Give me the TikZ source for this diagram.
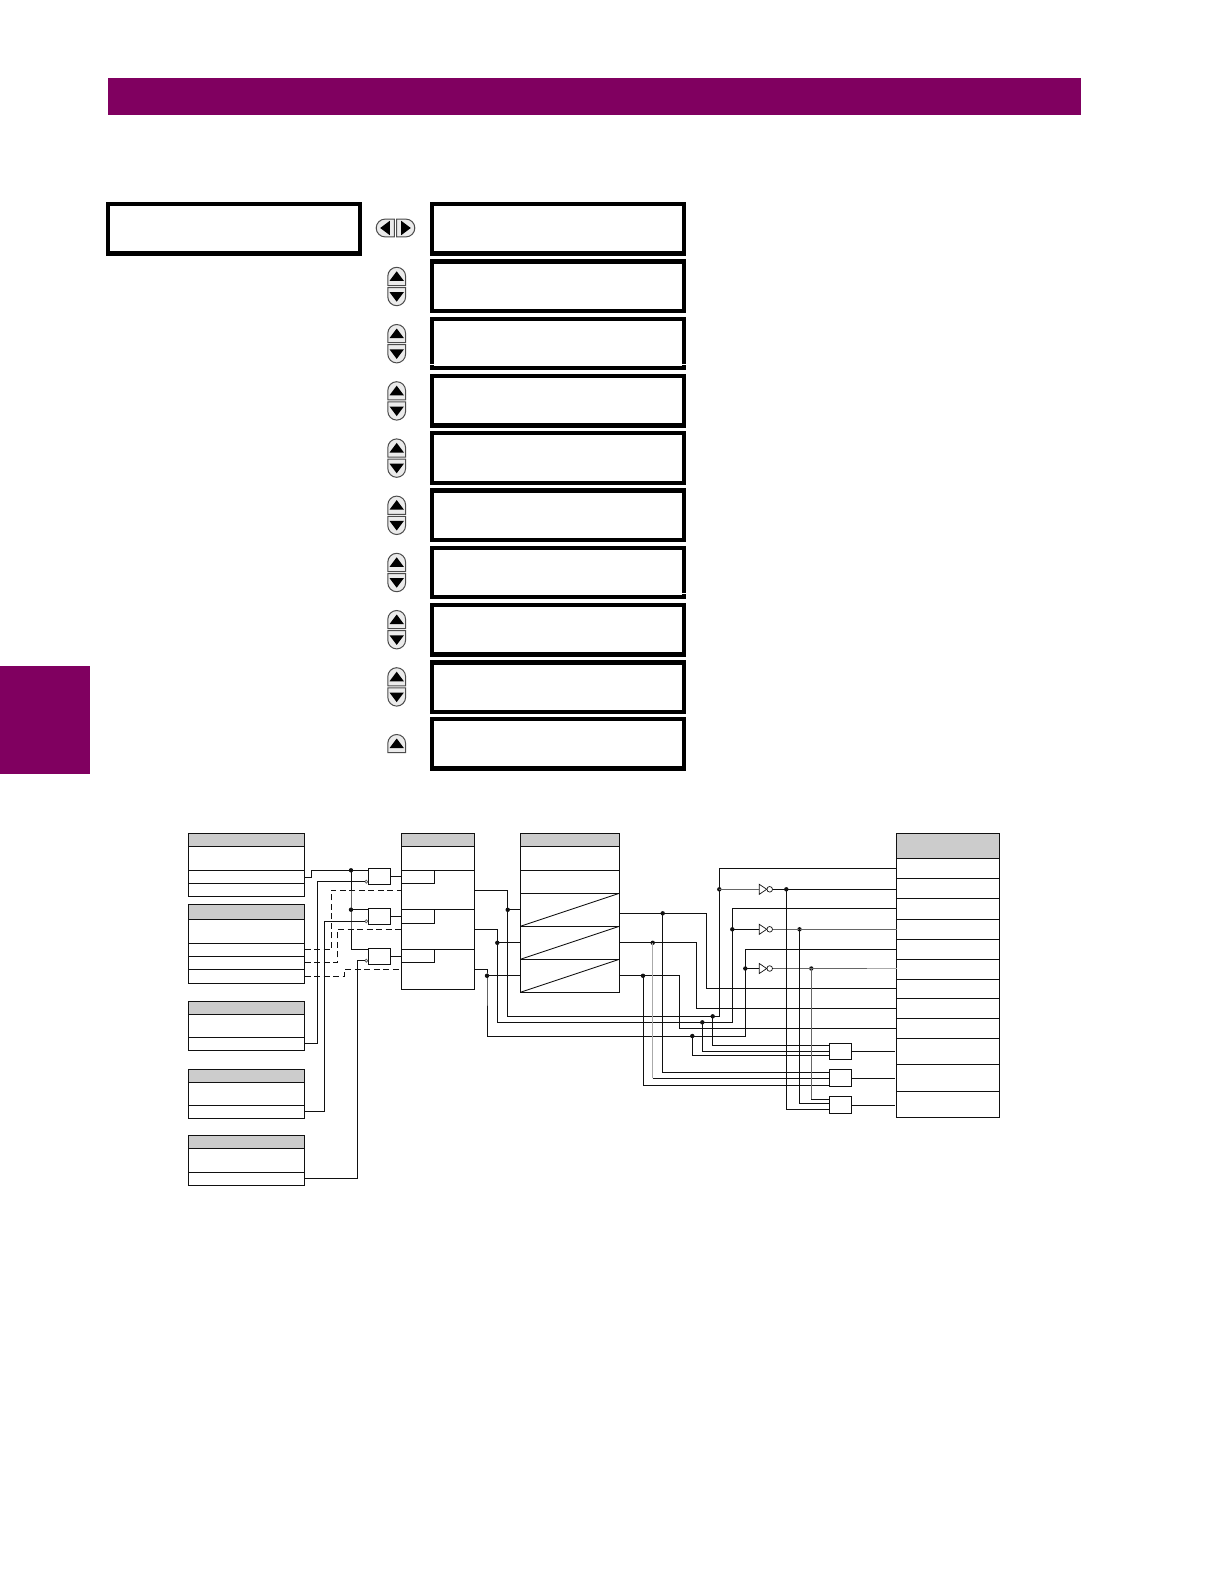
\documentclass[tikz,border=0pt]{standalone}
\usetikzlibrary{calc}
\definecolor{brand}{HTML}{800060}
\definecolor{hdrgray}{HTML}{CCCCCC}
\definecolor{ink}{HTML}{111111}
\definecolor{midgray}{HTML}{666666}
\definecolor{lightgray}{HTML}{AAAAAA}
\newcommand\tcell[6]{\pgfmathsetmacro{\tw}{#4-#2}\pgfmathsetmacro{\th}{#5-#3}%
  \node[#6,minimum width=\tw pt,minimum height=\th pt] (#1) at (#2,#3) {};}
\newcommand\lcdrow[3]{\node[lcd,minimum width=251.7pt,minimum height=49.4pt] (#1) at (#2,#3) {};}
\newcommand\invg[2]{\coordinate (#1in) at (759.3,#2);
  \node[invo] (#1o) at (769.7,#2) {};
  \draw[ink,line width=.7pt,fill=white] (759.3,#2-5) -- (766.7,#2) -- (759.3,#2+5) -- cycle;}
\tikzset{
  cellbase/.style={rectangle,draw=ink,line width=1pt,anchor=north west,inner sep=0pt,outer sep=0pt},
  cellr/.style={cellbase,fill=white},
  hdr/.style={cellbase,fill=hdrgray},
  lcd/.style={rectangle,draw=black,line width=4.3pt,anchor=north west,inner sep=0pt,outer sep=0pt,fill=white},
  wire/.style={draw=ink,line width=1pt},
  graywire/.style={draw=midgray,line width=1pt},
  lightwire/.style={draw=lightgray,line width=1.2pt},
  dashwire/.style={draw=ink,line width=1pt,dash pattern=on 6pt off 3.5pt},
  dotn/.style={circle,fill=ink,inner sep=0pt,minimum size=4.4pt,outer sep=0pt},
  bub/.style={circle,draw=midgray,fill=white,line width=.8pt,inner sep=0pt,minimum size=3pt,outer sep=0pt},
  invo/.style={circle,draw=ink,fill=white,line width=.7pt,inner sep=0pt,minimum size=5.6pt,outer sep=0pt},
  btn/.pic={
    \draw[draw=black!70,fill=black!8,line width=1pt] (-8.9pt,0pt) -- (-8.9pt,9.3pt)
      arc[start angle=180,end angle=0,radius=8.9pt] -- (8.9pt,0pt) -- cycle;
    \fill[black] (0pt,14.2pt) -- (7.2pt,4.6pt) -- (-7.2pt,4.6pt) -- cycle;
  },
}
\begin{document}
\begin{tikzpicture}[x=1pt,y=-1pt]
\useasboundingbox (0,0) rectangle (1224,1584);
\fill[white] (0,0) rectangle (1224,1584);
% page furniture
\fill[brand] (108,78) rectangle (1081,114.7);
\fill[brand] (0,666) rectangle (90,774);
% message boxes
\node[lcd,minimum width=252.2pt,minimum height=49.4pt] (msg) at (108.1,204.1) {};
\foreach \nm/\tp in {r1/204.1,r2/261.4,r3/318.9,r4/376,r5/433.3,r6/490.6,r7/547.9,r8/605.2,r9/662.4,r10/719.1}{
  \lcdrow{\nm}{432.2}{\tp}
}
\draw[white,line width=.8pt] (430,364.7) -- (686.5,364.7);
\draw[white,line width=.8pt] (680,593.7) -- (686.5,593.7);
% buttons
\pic[rotate=90] at (394.4,228) {btn};
\pic[rotate=-90] at (396.6,228) {btn};
\foreach \tp in {267.3,324.5,381.7,438.9,496.1,553.3,610.5,667.7}{
  \pic at (396.7,\tp+18.2) {btn};
  \pic[rotate=180] at (396.7,\tp+20.2) {btn};
}
\pic at (396.7,752.7) {btn};
% tables
\tcell{Ah}{188.3}{833.3}{304.7}{846.7}{hdr}
\tcell{A2}{188.3}{846.7}{304.7}{870.3}{cellr}
\tcell{A3}{188.3}{870.3}{304.7}{883.7}{cellr}
\tcell{A4}{188.3}{883.7}{304.7}{896.3}{cellr}
\tcell{Bh}{188.3}{904.3}{304.7}{919.3}{hdr}
\tcell{B2}{188.3}{919.3}{304.7}{943.3}{cellr}
\tcell{B3}{188.3}{943.3}{304.7}{956.3}{cellr}
\tcell{B4}{188.3}{956.3}{304.7}{969.3}{cellr}
\tcell{B5}{188.3}{969.3}{304.7}{983.3}{cellr}
\tcell{Ch}{188.3}{1001.3}{304.7}{1014.3}{hdr}
\tcell{C2}{188.3}{1014.3}{304.7}{1037.3}{cellr}
\tcell{C3}{188.3}{1037.3}{304.7}{1050.3}{cellr}
\tcell{Dh}{188.3}{1069.3}{304.7}{1082.3}{hdr}
\tcell{D2}{188.3}{1082.3}{304.7}{1105.3}{cellr}
\tcell{D3}{188.3}{1105.3}{304.7}{1118.3}{cellr}
\tcell{Eh}{188.3}{1135.3}{304.7}{1148.3}{hdr}
\tcell{E2}{188.3}{1148.3}{304.7}{1172.3}{cellr}
\tcell{E3}{188.3}{1172.3}{304.7}{1185.3}{cellr}
\tcell{Fh}{401.3}{833.3}{474.3}{846.7}{hdr}
\tcell{F2}{401.3}{846.7}{474.3}{870.3}{cellr}
\tcell{F3}{401.3}{870.3}{474.3}{909.7}{cellr}
\tcell{F4}{401.3}{909.7}{474.3}{949.7}{cellr}
\tcell{F5}{401.3}{949.7}{474.3}{989.3}{cellr}
\tcell{Fa}{401.3}{870.3}{434.7}{883.7}{cellr}
\tcell{Fb}{401.3}{909.7}{434.7}{923.7}{cellr}
\tcell{Fc}{401.3}{949.7}{434.7}{962.7}{cellr}
\tcell{Gh}{520.3}{833.3}{619.3}{846.7}{hdr}
\tcell{G1}{520.3}{846.7}{619.3}{870.3}{cellr}
\tcell{G2}{520.3}{870.3}{619.3}{893.3}{cellr}
\tcell{G3}{520.3}{893.3}{619.3}{926.3}{cellr}
\tcell{G4}{520.3}{926.3}{619.3}{959.3}{cellr}
\tcell{G5}{520.3}{959.3}{619.3}{992.3}{cellr}
\draw[ink,line width=.8pt] (G3.south west) -- (G3.north east);
\draw[ink,line width=.8pt] (G4.south west) -- (G4.north east);
\draw[ink,line width=.8pt] (G5.south west) -- (G5.north east);
\tcell{Hh}{896.7}{833.3}{999.3}{858.3}{hdr}
\tcell{H1}{896.7}{858.3}{999.3}{878.3}{cellr}
\tcell{H2}{896.7}{878.3}{999.3}{898.3}{cellr}
\tcell{H3}{896.7}{898.3}{999.3}{919.3}{cellr}
\tcell{H4}{896.7}{919.3}{999.3}{939.3}{cellr}
\tcell{H5}{896.7}{939.3}{999.3}{959.3}{cellr}
\tcell{H6}{896.7}{959.3}{999.3}{979.3}{cellr}
\tcell{H7}{896.7}{979.3}{999.3}{998.3}{cellr}
\tcell{H8}{896.7}{998.3}{999.3}{1018.3}{cellr}
\tcell{H9}{896.7}{1018.3}{999.3}{1038.3}{cellr}
\tcell{H10}{896.7}{1038.3}{999.3}{1064.7}{cellr}
\tcell{H11}{896.7}{1064.7}{999.3}{1091.3}{cellr}
\tcell{H12}{896.7}{1091.3}{999.3}{1117.3}{cellr}
% gates
\tcell{ga}{368.3}{868.3}{390.7}{884.7}{cellr}
\tcell{gb}{368.3}{908.3}{390.7}{924.7}{cellr}
\tcell{gc}{368.3}{948.3}{390.7}{964.7}{cellr}
\tcell{gd}{829.3}{1043.3}{851.7}{1059.7}{cellr}
\tcell{ge}{829.3}{1069.3}{851.7}{1086.7}{cellr}
\tcell{gf}{829.3}{1096.3}{851.7}{1113.7}{cellr}
% gate pins
\coordinate (gaT) at (368.3,870.3);
\coordinate (gbT) at (368.3,909.7);
\coordinate (gcT) at (368.3,949.7);
\coordinate (gd1) at (829.3,1045.3);
\coordinate (gd2) at (829.3,1051.3);
\coordinate (gd3) at (829.3,1055.3);
\coordinate (ge1) at (829.3,1072.3);
\coordinate (ge2) at (829.3,1078.3);
\coordinate (ge3) at (829.3,1085.3);
\coordinate (gf1) at (829.3,1099.3);
\coordinate (gf2) at (829.3,1103.3);
\coordinate (gf3) at (829.3,1109.3);
\coordinate (vA) at (706.5,988.8);
\coordinate (vB) at (696.5,1008.3);
\coordinate (vC) at (679.5,1028.3);
% dots
\node[dotn] (dA) at (351,870.3) {};
\node[dotn] (dB) at (351,909.7) {};
\node[dotn] (dL1) at (507.7,909.8) {};
\node[dotn] (dL2) at (497.3,942.8) {};
\node[dotn] (dL3) at (487,975.8) {};
\node[dotn] (dM1) at (712.7,1016.3) {};
\node[dotn] (dM2) at (702.3,1022.3) {};
\node[dotn] (dM3) at (692.3,1036) {};
\node[dotn] (dU1) at (719.3,889.3) {};
\node[dotn] (dU2) at (732.3,929.3) {};
\node[dotn] (dU3) at (745.3,968.5) {};
\node[dotn] (dO1) at (786.3,889.3) {};
\node[dotn] (dO2) at (799.5,929.3) {};
\node[dotn] (dO3) at (811.3,968.5) {};
\node[dotn] (dG1) at (662.7,913.3) {};
\node[dotn] (dG2) at (652.7,942.8) {};
\node[dotn] (dG3) at (643,975.8) {};
% inverted gate inputs
\node[bub] (ba) at (366.3,881.7) {};
\node[bub] (bb) at (366.3,921.3) {};
\node[bub] (bc) at (366.3,960.7) {};
% inverters
\invg{ia}{889.3}
\invg{ib}{929.3}
\invg{ic}{968.5}
% left wiring
\draw[wire] (A3.east) -- ++(7,0) |- (dA.center) -- (gaT);
\draw[wire] (dA.center) -- (dB.center) |- (gcT);
\draw[wire] (dB.center) -- (gbT);
\draw[wire] (C3.east) -- ++(12.6,0) |- (ba.west);
\draw[wire] (D3.east) -- ++(19.6,0) |- (bb.west);
\draw[wire] (E3.east) -- ++(52.6,0) |- (bc.west);
\draw[dashwire] (B3.east) -- ++(26.6,0) |- (F3.west);
\draw[dashwire] (B4.east) -- ++(32.6,0) |- (F4.west);
\draw[dashwire] (B5.east) -- ++(40,0) |- (F5.west);
\draw[wire] (ga.east) -- (ga.east -| Fa.west);
\draw[wire] (gb.east) -- (gb.east -| Fb.west);
\draw[wire] (gc.east) -- (gc.east -| Fc.west);
% middle wiring
\draw[wire] (F3.east) -| (dL1.center) |- (dM1.center) -| (dU1.center) |- (H1.west);
\draw[wire] (F4.east) -| (dL2.center) |- (dM2.center) -| (dU2.center) |- (H3.west);
\draw[wire] (F5.east) -| (dL3.center) |- (dM3.center) -| (dU3.center) |- (H5.west);
\draw[wire] (dL1.center) -- (G3.west);
\draw[wire] (dL2.center) -- (G4.west);
\draw[wire] (dL3.center) -- (G5.west);
\draw[wire] ([yshift=-3.5pt]G3.east) -| (vA) -- (H7.west);
\draw[wire] (G4.east) -| (vB) -- (H8.west);
\draw[wire] (G5.east) -| (vC) -- (H9.west);
\draw[wire] (dG1.center) |- (ge1);
\draw[lightwire] (dG2.center) -- (dG2.center |- ge2);
\draw[wire] (dG2.center |- ge2) -- (ge2);
\draw[wire] (dG3.center) |- (ge3);
\draw[wire] (dM1.center) |- (gd1);
\draw[wire] (dM2.center) |- (gd2);
\draw[wire] (dM3.center) |- (gd3);
% inverter wiring
\draw[graywire] (dU1.center) -- (iain);
\draw[wire] (dU2.center) -- (ibin);
\draw[wire] (dU3.center) -- (icin);
\draw[wire] (iao.east) -- (dO1.center) -- (dO1.center -| H2.west);
\draw[graywire] (ibo.east) -- (dO2.center) -- (dO2.center -| H4.west);
\draw[graywire] (ico.east) -- (dO3.center) -- (866.7,968.5);
\draw[lightwire] (866.7,968.5) -- (dO3.center -| H6.west);
\draw[wire] (dO1.center) |- (gf3);
\draw[wire] (dO2.center) |- (gf2);
\draw[graywire] (dO3.center) -- (dO3.center |- gf1);
\draw[wire] (dO3.center |- gf1) -- (gf1);
\draw[wire] (gd.east) -- ([xshift=-1.5pt]gd.east -| H10.west);
\draw[wire] (ge.east) -- ([xshift=-1.5pt]ge.east -| H11.west);
\draw[wire] (gf.east) -- ([xshift=-1.5pt]gf.east -| H12.west);
\end{tikzpicture}
\end{document}
